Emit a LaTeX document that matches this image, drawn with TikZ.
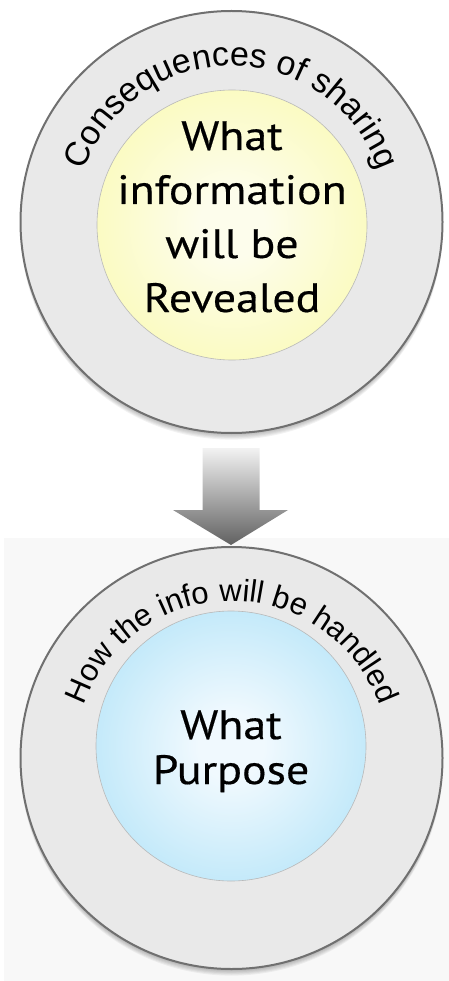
\documentclass[tikz,border=0pt]{standalone}
\usepackage{fontspec}
\newfontfamily\arcfont{Liberation Sans}
\newfontfamily\corefont[FakeStretch=1.12,FakeBold=0.4]{PT Sans}
\usetikzlibrary{decorations.text,calc}

\definecolor{ringfill}{HTML}{E9E9E9}
\definecolor{ringline}{HTML}{707070}
\definecolor{backtint}{HTML}{F8F8F8}
\definecolor{ycore}{RGB}{253,253,236}
\definecolor{ymid}{RGB}{250,250,180}
\definecolor{yedge}{RGB}{246,246,140}
\definecolor{bcore}{RGB}{240,249,254}
\definecolor{bmid}{RGB}{180,228,248}
\definecolor{bedge}{RGB}{125,205,240}

\pgfdeclareradialshading{yellowglow}{\pgfpoint{0bp}{0bp}}%
  {color(0bp)=(ycore); color(6bp)=(ycore); color(32bp)=(ymid); color(50bp)=(yedge)}
\pgfdeclareradialshading{blueglow}{\pgfpoint{0bp}{0bp}}%
  {color(0bp)=(bcore); color(6bp)=(bcore); color(32bp)=(bmid); color(50bp)=(bedge)}

\tikzset{
  outerring/.style={circle, minimum size=422pt, inner sep=0pt,
    fill=ringfill, draw=ringline, line width=2pt},
  corecircle/.style={circle, minimum size=270pt, inner sep=0pt,
    draw=gray!55, line width=0.6pt},
  coretext/.style={font=\corefont\fontsize{41}{41}\selectfont,
    inner sep=0pt, anchor=base},
  ringshadow/.style={fill=black, opacity=0.05},
}

\begin{document}
\begin{tikzpicture}[x=1pt,y=1pt]
\useasboundingbox (0,0) rectangle (449,-981);

% faint backdrop behind the lower ring
\fill[backtint] (4,-538) rectangle (449,-981);

% soft shadows under the rings
\foreach \k in {1,...,6}{
  \fill[ringshadow] (231.5,-222-\k*1.1) circle[radius=211pt];
  \fill[ringshadow] (231.5,-758-\k*1.1) circle[radius=211pt];
}

% upper ring
\node[outerring] (topring) at (231.5,-222) {};
\node[corecircle, shading=yellowglow] (topcore) at (232,-225) {};
\path[decorate, decoration={text along path, text align=center,
  text={|\arcfont\fontsize{34}{34}\selectfont|Consequences of sharing}}]
  ($(topring.center)+(175:156pt)$) arc[start angle=175, end angle=5, radius=156pt];
\node[coretext] (t1) at (232,-150) {What};
\node[coretext] (t2) at (232,-204) {information};
\node[coretext] (t3) at (232,-258) {will be};
\node[coretext] (t4) at (232,-312) {Revealed};

% lower ring
\node[outerring] (botring) at (231.5,-758) {};
\node[corecircle, shading=blueglow] (botcore) at (231,-746) {};
\path[decorate, decoration={text along path, text align=center,
  text={|\arcfont\fontsize{31}{31}\selectfont|How the info will be handled}}]
  ($(botring.center)+(175:157pt)$) arc[start angle=175, end angle=5, radius=157pt];
\node[coretext] (b1) at (231,-739) {What};
\node[coretext] (b2) at (231,-784) {Purpose};

% block arrow from the upper ring to the lower ring
\coordinate (atail) at (231,-448);
\coordinate (atip) at (231,-545);
\shade[top color=black!5, bottom color=black!62]
  ($(atail)+(-28.5,0)$) -- ($(atail)+(28.5,0)$) -- ($(atail)+(28.5,-62)$)
  -- ($(atail)+(57,-62)$) -- (atip) -- ($(atail)+(-58,-62)$)
  -- ($(atail)+(-28.5,-62)$) -- cycle;
\end{tikzpicture}
\end{document}
